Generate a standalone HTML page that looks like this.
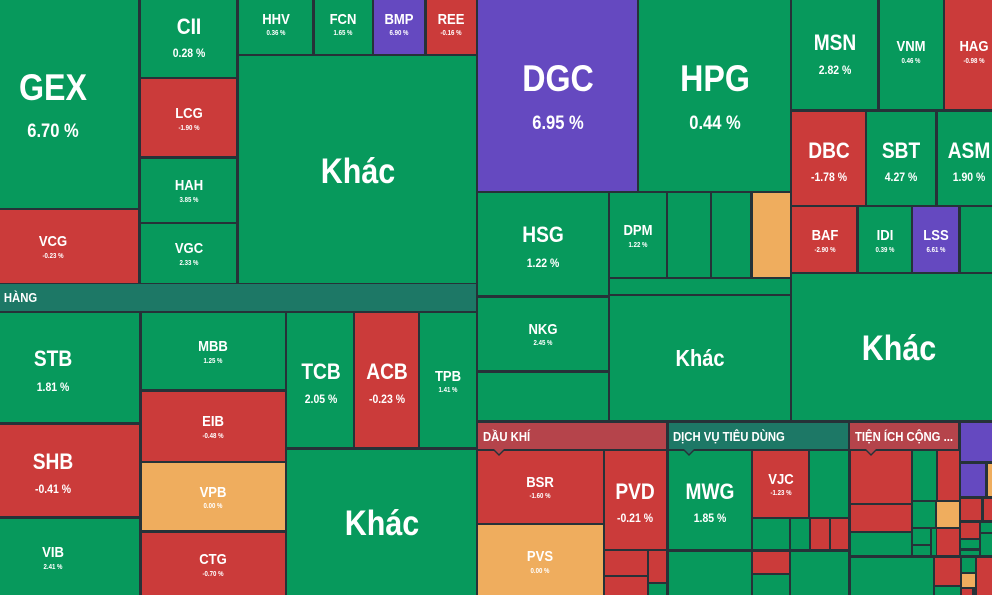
<!DOCTYPE html>
<html><head><meta charset="utf-8">
<style>
html,body{margin:0;padding:0;background:#263238;}
#c{position:relative;width:992px;height:595px;overflow:hidden;background:#263238;font-family:"Liberation Sans","Noto Sans CJK SC",sans-serif;}
.t{position:absolute;}
.g{background:#07995c}.r{background:#cb3b3a}.p{background:#6549c0}.o{background:#efad5e}
.ht{background:#1d7866}.hr{background:#b5444b}
.l{position:absolute;width:240px;text-align:center;color:#fff;font-weight:bold;white-space:nowrap;line-height:1;transform:scaleX(.87);transform-origin:center;}
.h{position:absolute;color:#fff;font-weight:bold;white-space:nowrap;line-height:1;font-size:13px;transform:scaleX(.87);transform-origin:left;}
.ar{position:absolute;width:0;height:0;border-left:7px solid transparent;border-right:7px solid transparent;border-top:7px solid #263238;}
.ai{position:absolute;width:0;height:0;border-left:5px solid transparent;border-right:5px solid transparent;border-top:5px solid #b5444b;}
</style></head><body><div id="c">
<!-- tiles -->
<div class="t g" style="left:-32px;top:0;width:170px;height:208px"></div>
<div class="t r" style="left:-32px;top:210px;width:170px;height:73px"></div>
<div class="t g" style="left:141px;top:0;width:95px;height:77px"></div>
<div class="t r" style="left:141px;top:79px;width:95px;height:77px"></div>
<div class="t g" style="left:141px;top:159px;width:95px;height:63px"></div>
<div class="t g" style="left:141px;top:224px;width:95px;height:59px"></div>
<div class="t g" style="left:239px;top:0;width:73px;height:54px"></div>
<div class="t g" style="left:315px;top:0;width:57px;height:54px"></div>
<div class="t p" style="left:374px;top:0;width:50px;height:54px"></div>
<div class="t r" style="left:427px;top:0;width:49px;height:54px"></div>
<div class="t g" style="left:239px;top:56px;width:237px;height:227px"></div>
<div class="t ht" style="left:-32px;top:284px;width:508px;height:27px"></div>
<div class="t g" style="left:-32px;top:313px;width:171px;height:109px"></div>
<div class="t r" style="left:-32px;top:425px;width:171px;height:91px"></div>
<div class="t g" style="left:-32px;top:519px;width:171px;height:80px"></div>
<div class="t g" style="left:142px;top:313px;width:143px;height:76px"></div>
<div class="t r" style="left:142px;top:392px;width:143px;height:69px"></div>
<div class="t o" style="left:142px;top:463px;width:143px;height:67px"></div>
<div class="t r" style="left:142px;top:533px;width:143px;height:66px"></div>
<div class="t g" style="left:287px;top:313px;width:66px;height:134px"></div>
<div class="t r" style="left:355px;top:313px;width:63px;height:134px"></div>
<div class="t g" style="left:420px;top:313px;width:56px;height:134px"></div>
<div class="t g" style="left:287px;top:450px;width:189px;height:149px"></div>

<div class="t p" style="left:478px;top:0;width:159px;height:191px"></div>
<div class="t g" style="left:639px;top:0;width:151px;height:191px"></div>
<div class="t g" style="left:478px;top:193px;width:130px;height:102px"></div>
<div class="t g" style="left:610px;top:193px;width:56px;height:84px"></div>
<div class="t g" style="left:668px;top:193px;width:42px;height:84px"></div>
<div class="t g" style="left:712px;top:193px;width:38px;height:84px"></div>
<div class="t o" style="left:753px;top:193px;width:37px;height:84px"></div>
<div class="t g" style="left:610px;top:279px;width:180px;height:15px"></div>
<div class="t g" style="left:478px;top:298px;width:130px;height:72px"></div>
<div class="t g" style="left:478px;top:373px;width:130px;height:47px"></div>
<div class="t g" style="left:610px;top:296px;width:180px;height:124px"></div>

<div class="t g" style="left:792px;top:0;width:85px;height:109px"></div>
<div class="t g" style="left:880px;top:0;width:63px;height:109px"></div>
<div class="t r" style="left:945px;top:0;width:55px;height:109px"></div>
<div class="t r" style="left:792px;top:112px;width:73px;height:93px"></div>
<div class="t g" style="left:867px;top:112px;width:68px;height:93px"></div>
<div class="t g" style="left:938px;top:112px;width:62px;height:93px"></div>
<div class="t r" style="left:792px;top:207px;width:64px;height:65px"></div>
<div class="t g" style="left:859px;top:207px;width:52px;height:65px"></div>
<div class="t p" style="left:913px;top:207px;width:45px;height:65px"></div>
<div class="t g" style="left:961px;top:207px;width:39px;height:65px"></div>
<div class="t g" style="left:792px;top:274px;width:208px;height:146px"></div>

<div class="t hr" style="left:478px;top:423px;width:188px;height:26px"></div>
<div class="t r" style="left:478px;top:451px;width:125px;height:72px"></div>
<div class="t o" style="left:478px;top:525px;width:125px;height:74px"></div>
<div class="t r" style="left:605px;top:451px;width:61px;height:98px"></div>
<div class="t r" style="left:605px;top:551px;width:42px;height:24px"></div>
<div class="t r" style="left:605px;top:577px;width:42px;height:22px"></div>
<div class="t r" style="left:649px;top:551px;width:17px;height:31px"></div>
<div class="t g" style="left:649px;top:584px;width:17px;height:15px"></div>

<div class="t ht" style="left:669px;top:423px;width:179px;height:26px"></div>
<div class="t g" style="left:669px;top:451px;width:82px;height:98px"></div>
<div class="t g" style="left:669px;top:552px;width:82px;height:47px"></div>
<div class="t r" style="left:753px;top:451px;width:55px;height:66px"></div>
<div class="t g" style="left:810px;top:451px;width:38px;height:66px"></div>
<div class="t g" style="left:753px;top:519px;width:36px;height:30px"></div>
<div class="t g" style="left:791px;top:519px;width:18px;height:30px"></div>
<div class="t r" style="left:811px;top:519px;width:18px;height:30px"></div>
<div class="t r" style="left:831px;top:519px;width:17px;height:30px"></div>
<div class="t r" style="left:753px;top:552px;width:36px;height:21px"></div>
<div class="t g" style="left:753px;top:575px;width:36px;height:24px"></div>
<div class="t g" style="left:791px;top:552px;width:57px;height:47px"></div>

<div class="t hr" style="left:850px;top:423px;width:108px;height:26px"></div>
<div class="t r" style="left:851px;top:451px;width:60px;height:52px"></div>
<div class="t r" style="left:851px;top:505px;width:60px;height:26px"></div>
<div class="t g" style="left:851px;top:533px;width:60px;height:22px"></div>
<div class="t g" style="left:913px;top:451px;width:23px;height:49px"></div>
<div class="t r" style="left:938px;top:451px;width:21px;height:49px"></div>
<div class="t g" style="left:913px;top:502px;width:22px;height:25px"></div>
<div class="t o" style="left:937px;top:502px;width:22px;height:25px"></div>
<div class="t g" style="left:913px;top:529px;width:17px;height:15px"></div>
<div class="t g" style="left:913px;top:546px;width:17px;height:9px"></div>
<div class="t g" style="left:932px;top:529px;width:4px;height:26px"></div>
<div class="t r" style="left:937px;top:529px;width:22px;height:26px"></div>
<div class="t g" style="left:851px;top:558px;width:82px;height:41px"></div>
<div class="t r" style="left:935px;top:558px;width:25px;height:27px"></div>
<div class="t g" style="left:935px;top:587px;width:25px;height:12px"></div>

<div class="t p" style="left:961px;top:423px;width:31px;height:38px"></div>
<div class="t p" style="left:961px;top:464px;width:24px;height:32px"></div>
<div class="t o" style="left:988px;top:464px;width:4px;height:32px"></div>
<div class="t r" style="left:961px;top:499px;width:20px;height:21px"></div>
<div class="t r" style="left:984px;top:499px;width:8px;height:21px"></div>
<div class="t r" style="left:961px;top:523px;width:18px;height:15px"></div>
<div class="t g" style="left:981px;top:523px;width:11px;height:9px"></div>
<div class="t g" style="left:981px;top:534px;width:11px;height:21px"></div>
<div class="t g" style="left:961px;top:540px;width:18px;height:8px"></div>
<div class="t g" style="left:961px;top:551px;width:18px;height:4px"></div>
<div class="t g" style="left:962px;top:558px;width:13px;height:14px"></div>
<div class="t o" style="left:962px;top:574px;width:13px;height:13px"></div>
<div class="t r" style="left:962px;top:589px;width:10px;height:6px"></div>
<div class="t r" style="left:977px;top:558px;width:15px;height:37px"></div>

<!-- header arrows -->
<div class="ar" style="left:492px;top:449px"></div><div class="ai" style="left:494px;top:449px"></div>
<div class="ar" style="left:682px;top:449px"></div><div class="ai" style="left:684px;top:449px;border-top-color:#1d7866"></div>
<div class="ar" style="left:864px;top:449px"></div><div class="ai" style="left:866px;top:449px"></div>

<!-- headers -->
<div class="h" style="right:955px;top:291px;transform-origin:right">NGÂN HÀNG</div>
<div class="h" style="left:483px;top:430px">DẦU KHÍ</div>
<div class="h" style="left:673px;top:430px">DỊCH VỤ TIÊU DÙNG</div>
<div class="h" style="left:855px;top:430px">TIỆN ÍCH CỘNG ...</div>

<!-- labels -->
<div class="l" style="left:-67px;top:69px;font-size:37px">GEX</div>
<div class="l" style="left:-67px;top:122px;font-size:19px">6.70 %</div>
<div class="l" style="left:69px;top:16px;font-size:22px">CII</div>
<div class="l" style="left:69px;top:47px;font-size:12px">0.28 %</div>
<div class="l" style="left:69px;top:106px;font-size:15px">LCG</div>
<div class="l" style="left:69px;top:125px;font-size:7px">-1.90 %</div>
<div class="l" style="left:69px;top:178px;font-size:15px">HAH</div>
<div class="l" style="left:69px;top:197px;font-size:7px">3.85 %</div>
<div class="l" style="left:69px;top:241px;font-size:15px">VGC</div>
<div class="l" style="left:69px;top:260px;font-size:7px">2.33 %</div>
<div class="l" style="left:156px;top:12px;font-size:15px">HHV</div>
<div class="l" style="left:156px;top:30px;font-size:7px">0.36 %</div>
<div class="l" style="left:223px;top:12px;font-size:15px">FCN</div>
<div class="l" style="left:223px;top:30px;font-size:7px">1.65 %</div>
<div class="l" style="left:279px;top:12px;font-size:15px">BMP</div>
<div class="l" style="left:279px;top:30px;font-size:7px">6.90 %</div>
<div class="l" style="left:331px;top:12px;font-size:15px">REE</div>
<div class="l" style="left:331px;top:30px;font-size:7px">-0.16 %</div>
<div class="l" style="left:238px;top:154px;font-size:35px">Khác</div>
<div class="l" style="left:-67px;top:234px;font-size:15px">VCG</div>
<div class="l" style="left:-67px;top:253px;font-size:7px">-0.23 %</div>

<div class="l" style="left:-67px;top:348px;font-size:22px">STB</div>
<div class="l" style="left:-67px;top:381px;font-size:12px">1.81 %</div>
<div class="l" style="left:-67px;top:451px;font-size:22px">SHB</div>
<div class="l" style="left:-67px;top:483px;font-size:12px">-0.41 %</div>
<div class="l" style="left:-67px;top:545px;font-size:15px">VIB</div>
<div class="l" style="left:-67px;top:564px;font-size:7px">2.41 %</div>
<div class="l" style="left:93px;top:339px;font-size:15px">MBB</div>
<div class="l" style="left:93px;top:358px;font-size:7px">1.25 %</div>
<div class="l" style="left:93px;top:414px;font-size:15px">EIB</div>
<div class="l" style="left:93px;top:433px;font-size:7px">-0.48 %</div>
<div class="l" style="left:93px;top:485px;font-size:15px">VPB</div>
<div class="l" style="left:93px;top:503px;font-size:7px">0.00 %</div>
<div class="l" style="left:93px;top:552px;font-size:15px">CTG</div>
<div class="l" style="left:93px;top:571px;font-size:7px">-0.70 %</div>
<div class="l" style="left:201px;top:361px;font-size:22px">TCB</div>
<div class="l" style="left:201px;top:393px;font-size:12px">2.05 %</div>
<div class="l" style="left:267px;top:361px;font-size:22px">ACB</div>
<div class="l" style="left:267px;top:393px;font-size:12px">-0.23 %</div>
<div class="l" style="left:328px;top:369px;font-size:15px">TPB</div>
<div class="l" style="left:328px;top:387px;font-size:7px">1.41 %</div>
<div class="l" style="left:262px;top:506px;font-size:35px">Khác</div>

<div class="l" style="left:438px;top:60px;font-size:37px">DGC</div>
<div class="l" style="left:438px;top:114px;font-size:19px">6.95 %</div>
<div class="l" style="left:595px;top:60px;font-size:37px">HPG</div>
<div class="l" style="left:595px;top:114px;font-size:19px">0.44 %</div>
<div class="l" style="left:715px;top:32px;font-size:22px">MSN</div>
<div class="l" style="left:715px;top:64px;font-size:12px">2.82 %</div>
<div class="l" style="left:791px;top:39px;font-size:15px">VNM</div>
<div class="l" style="left:791px;top:58px;font-size:7px">0.46 %</div>
<div class="l" style="left:854px;top:39px;font-size:15px">HAG</div>
<div class="l" style="left:854px;top:58px;font-size:7px">-0.98 %</div>
<div class="l" style="left:709px;top:140px;font-size:22px">DBC</div>
<div class="l" style="left:709px;top:171px;font-size:12px">-1.78 %</div>
<div class="l" style="left:781px;top:140px;font-size:22px">SBT</div>
<div class="l" style="left:781px;top:171px;font-size:12px">4.27 %</div>
<div class="l" style="left:849px;top:140px;font-size:22px">ASM</div>
<div class="l" style="left:849px;top:171px;font-size:12px">1.90 %</div>
<div class="l" style="left:423px;top:224px;font-size:22px">HSG</div>
<div class="l" style="left:423px;top:257px;font-size:12px">1.22 %</div>
<div class="l" style="left:518px;top:223px;font-size:15px">DPM</div>
<div class="l" style="left:518px;top:242px;font-size:7px">1.22 %</div>
<div class="l" style="left:705px;top:228px;font-size:15px">BAF</div>
<div class="l" style="left:705px;top:247px;font-size:7px">-2.90 %</div>
<div class="l" style="left:765px;top:228px;font-size:15px">IDI</div>
<div class="l" style="left:765px;top:247px;font-size:7px">0.39 %</div>
<div class="l" style="left:816px;top:228px;font-size:15px">LSS</div>
<div class="l" style="left:816px;top:247px;font-size:7px">6.61 %</div>
<div class="l" style="left:423px;top:322px;font-size:15px">NKG</div>
<div class="l" style="left:423px;top:340px;font-size:7px">2.45 %</div>
<div class="l" style="left:580px;top:347px;font-size:23px">Khác</div>
<div class="l" style="left:779px;top:331px;font-size:35px">Khác</div>

<div class="l" style="left:420px;top:475px;font-size:15px">BSR</div>
<div class="l" style="left:420px;top:493px;font-size:7px">-1.60 %</div>
<div class="l" style="left:420px;top:549px;font-size:15px">PVS</div>
<div class="l" style="left:420px;top:568px;font-size:7px">0.00 %</div>
<div class="l" style="left:515px;top:481px;font-size:22px">PVD</div>
<div class="l" style="left:515px;top:512px;font-size:12px">-0.21 %</div>
<div class="l" style="left:590px;top:481px;font-size:22px">MWG</div>
<div class="l" style="left:590px;top:512px;font-size:12px">1.85 %</div>
<div class="l" style="left:661px;top:472px;font-size:15px">VJC</div>
<div class="l" style="left:661px;top:490px;font-size:7px">-1.23 %</div>
</div></body></html>
